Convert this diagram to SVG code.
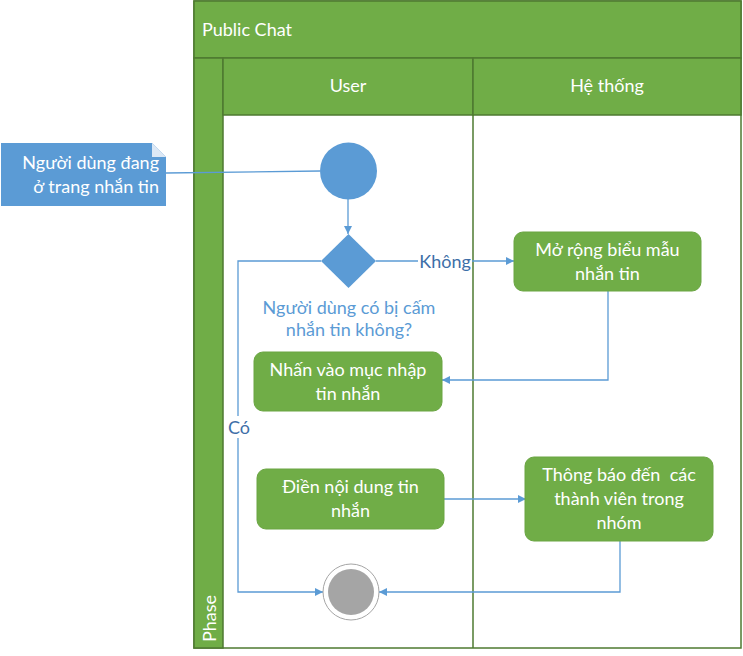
<svg xmlns="http://www.w3.org/2000/svg" width="743" height="656" viewBox="0 0 743 656">
<style>
text{font-family:Lato,"Liberation Sans",sans-serif;font-size:18px}
.w{fill:#ffffff}
.lbl{fill:#5B9BD5}
.dk{fill:#3E6FA8}
.band{fill:#70AD47;stroke:#4E7A31;stroke-width:1.5}
.act{fill:#70AD47;stroke:#6AA542;stroke-width:1}
.con{fill:none;stroke:#5B9BD5;stroke-width:1.3}
</style>
<defs>
<marker id="ah" viewBox="0 0 10 10" refX="10" refY="5" markerWidth="8" markerHeight="8" markerUnits="userSpaceOnUse" orient="auto">
<path d="M0,0 L10,5 L0,10 z" fill="#5B9BD5"/>
</marker>
</defs>
<g id="pool">
<rect x="194" y="1" width="547" height="647" fill="#ffffff" stroke="#4E7A31" stroke-width="1.5"/>
<rect class="band" x="194" y="1" width="547" height="57"/>
<text class="w" x="202" y="36">Public Chat</text>
<rect class="band" x="194" y="58" width="29" height="590"/>
<text class="w" transform="translate(216,642) rotate(-90)">Phase</text>
<rect class="band" x="223" y="58" width="250" height="57"/>
<text class="w" x="348" y="92" text-anchor="middle">User</text>
<rect class="band" x="473" y="58" width="268" height="57"/>
<text class="w" x="607" y="92" text-anchor="middle">Hệ thống</text>
<line x1="473" y1="115" x2="473" y2="648" stroke="#4E7A31" stroke-width="1.5"/>
</g>
<g id="note">
<path d="M1,143 H152 L166,157 V206 H1 Z" fill="#5B9BD5"/>
<path d="M152,143 L152,157 L166,157 Z" fill="#DCE8F5"/>
<text class="w" x="159" y="169" text-anchor="end">Người dùng đang</text>
<text class="w" x="159" y="193" text-anchor="end">ở trang nhắn tin</text>
</g>
<g id="connectors">
<line class="con" x1="166" y1="173" x2="320" y2="171"/>
<line class="con" x1="348" y1="199" x2="348" y2="234" marker-end="url(#ah)"/>
<path class="con" d="M376,261 H514" marker-end="url(#ah)"/>
<path class="con" d="M321,261 H238 V592 H323" marker-end="url(#ah)"/>
<path class="con" d="M608,291 V380 H442" marker-end="url(#ah)"/>
<path class="con" d="M444,499 H526" marker-end="url(#ah)"/>
<path class="con" d="M620,541 V592 H379" marker-end="url(#ah)"/>
<rect x="418" y="250" width="54" height="22" fill="#ffffff"/>
<text class="dk" x="445" y="268" text-anchor="middle">Không</text>
<rect x="228" y="416" width="22" height="22" fill="#ffffff"/>
<text class="dk" x="239" y="434" text-anchor="middle">Có</text>
</g>
<g id="start">
<circle cx="348.5" cy="171" r="28.5" fill="#5B9BD5"/>
</g>
<g id="decision">
<path d="M348.5,234 L376,261 L348.5,288 L321,261 Z" fill="#5B9BD5"/>
<text class="lbl" x="349" y="314" text-anchor="middle">Người dùng có bị cấm</text>
<text class="lbl" x="349" y="336" text-anchor="middle">nhắn tin không?</text>
</g>
<g id="act1">
<rect class="act" x="514" y="232" width="187" height="59" rx="9"/>
<text class="w" x="607.5" y="256" text-anchor="middle">Mở rộng biểu mẫu</text>
<text class="w" x="607.5" y="280" text-anchor="middle">nhắn tin</text>
</g>
<g id="act2">
<rect class="act" x="254" y="352" width="188" height="59" rx="9"/>
<text class="w" x="348" y="376" text-anchor="middle">Nhấn vào mục nhập</text>
<text class="w" x="348" y="400" text-anchor="middle">tin nhắn</text>
</g>
<g id="act3">
<rect class="act" x="257" y="469" width="187" height="60" rx="9"/>
<text class="w" x="350.5" y="493" text-anchor="middle">Điền nội dung tin</text>
<text class="w" x="350.5" y="517" text-anchor="middle">nhắn</text>
</g>
<g id="act4">
<rect class="act" x="525" y="457" width="188" height="84" rx="9"/>
<text class="w" x="619" y="481" text-anchor="middle" xml:space="preserve" style="white-space:pre">Thông báo đến  các</text>
<text class="w" x="619" y="505" text-anchor="middle">thành viên trong</text>
<text class="w" x="619" y="529" text-anchor="middle">nhóm</text>
</g>
<g id="end">
<circle cx="351" cy="592" r="28" fill="#ffffff" stroke="#A5A5A5" stroke-width="1"/>
<circle cx="351" cy="592" r="23" fill="#A5A5A5"/>
</g>
</svg>
